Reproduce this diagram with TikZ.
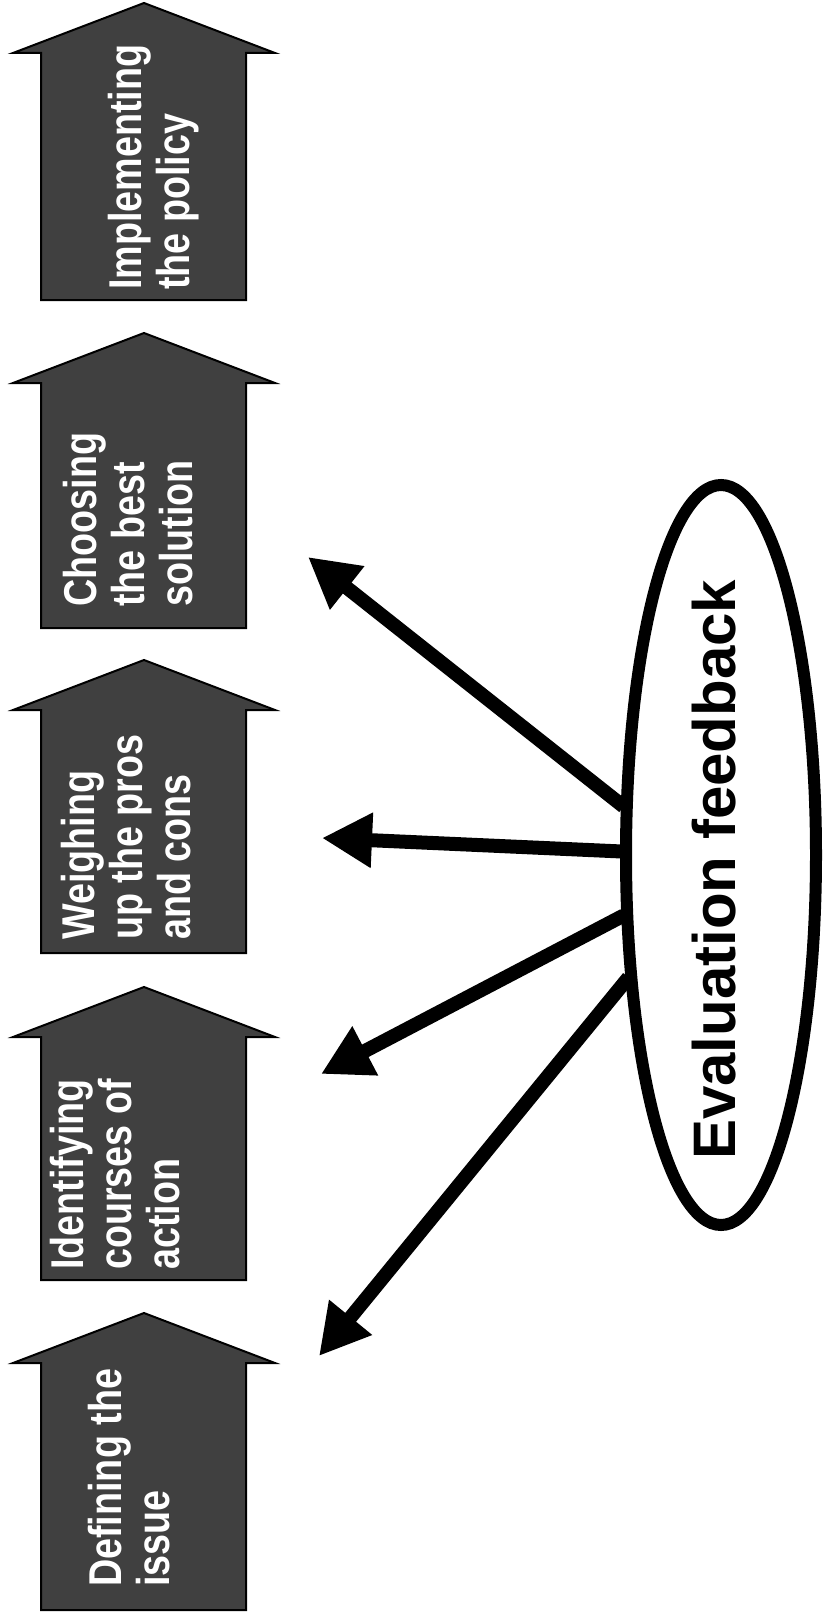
\documentclass[tikz,border=0pt]{standalone}
\usepackage{fontspec}
\setmainfont{Liberation Sans}
\newfontfamily\stagefont[FakeStretch=0.82]{Liberation Sans}
\usetikzlibrary{arrows.meta,shapes.geometric}

\begin{document}
\begin{tikzpicture}[x=1pt,y=1pt,
  stagebox/.style={draw=black, line width=2pt, fill=black!75, line join=miter},
  stagetext/.style={rotate=90, anchor=north west, inner sep=0pt, align=left,
    text=white, font=\stagefont\bfseries\fontsize{46}{48}\selectfont},
  feedback/.style={draw=black, line width=12pt, ellipse, minimum width=190pt,
    minimum height=740pt, inner sep=0pt, outer sep=0pt},
  feedbacktext/.style={rotate=90, anchor=base west, inner sep=0pt,
    font=\bfseries\fontsize{60}{72}\selectfont},
  ray/.style={line width=14pt, shorten <=4pt, -{Triangle[length=50pt,width=52pt]}}]
\useasboundingbox (0,0) rectangle (829,-1616);

% the five stages, drawn as upward block arrows (apex y / base y)
\foreach \a/\b in {3/300, 333/628, 660/953, 987/1280, 1313/1610}{
  \draw[stagebox] (144,-\a) -- (275,-\a-50) -- (246,-\a-50) -- (246,-\b)
    -- (41,-\b) -- (41,-\a-50) -- (13,-\a-50) -- cycle;
}

\node[stagetext] (s1) at (108,-290)  {Implementing\\the policy};
\node[stagetext] (s2) at (63,-607)   {Choosing\\the best\\solution};
\node[stagetext] (s3) at (61,-940)   {Weighing\\up the pros\\and cons};
\node[stagetext] (s4) at (50,-1270)  {Identifying\\courses of\\action};
\node[stagetext] (s5) at (88,-1587)  {Defining the\\issue};

% feedback loop
\node[feedback] (fb) at (721,-855) {};
\node[feedbacktext] (fbt) at (735,-1160) {Evaluation feedback};

\coordinate (t1) at (308,-557);
\coordinate (t2) at (322,-838);
\coordinate (t3) at (321,-1074);
\coordinate (t4) at (319,-1356);

\draw[ray] (fb.154) -- (t1);
\draw[ray] (fb.178) -- (t2);
\draw[ray] (fb.212) -- (t3);
\draw[ray] (fb.233) -- (t4);
\end{tikzpicture}
\end{document}
